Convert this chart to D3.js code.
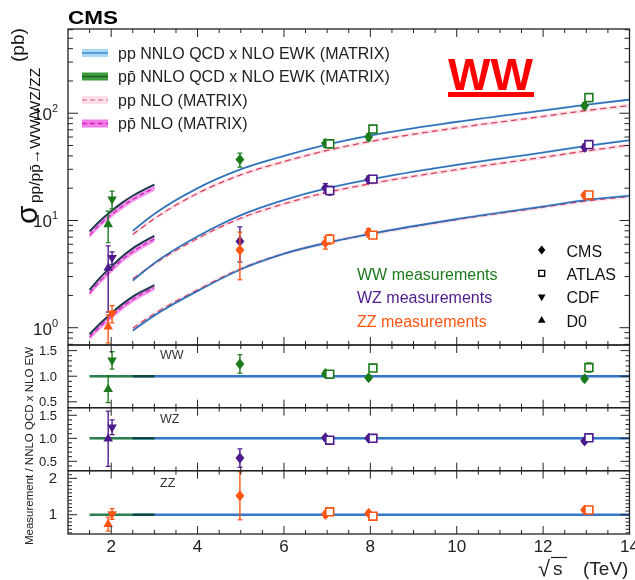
<!DOCTYPE html>
<html><head><meta charset="utf-8">
<script src="https://cdn.jsdelivr.net/npm/d3@7"></script>
<style>body{margin:0;background:#fff} svg{display:block;font-family:"Liberation Sans",Arial,Helvetica,sans-serif}</style>
</head><body><svg id="c" width="635" height="580"></svg>
<script>
// ---------------- DATA ----------------
// Theory curves: sqrt(s) in TeV, cross sections in pb
const tevE = [1.5, 1.75, 2.0, 2.25, 2.5, 2.75, 3.0];
const ppE  = [2.5, 3, 4, 5, 6, 7, 8, 10, 12, 13, 14];

const wwPpbarNNLO = [7.9, 10.0, 12.2, 14.6, 17.0, 19.3, 21.6];
const wwPpbarNLO  = [7.3, 9.3, 11.3, 13.5, 15.7, 17.9, 20.1];
const wzPpbarNNLO = [2.25, 2.95, 3.7, 4.6, 5.5, 6.35, 7.2];
const wzPpbarNLO  = [2.1, 2.75, 3.45, 4.3, 5.1, 5.9, 6.7];
const zzPpbarNNLO = [0.87, 1.1, 1.36, 1.65, 1.95, 2.22, 2.5];
const zzPpbarNLO  = [0.82, 1.03, 1.27, 1.55, 1.83, 2.1, 2.36];

const wwPpNNLO = [8.0, 11.5, 20, 30, 40, 51, 62, 83, 106, 120, 134];
const wwPpNLO  = [7.4, 10.4, 17.9, 26.6, 35.4, 45, 54.5, 73, 93.5, 106, 118];
const wzPpNNLO = [2.75, 4.0, 7.1, 11.2, 15.5, 20, 24.2, 33, 43, 49.5, 56];
const wzPpNLO  = [2.85, 3.95, 6.8, 10.5, 14.3, 18.3, 22, 29.8, 38.8, 44.5, 50.5];
const zzPpNNLO = [0.94, 1.3, 2.2, 3.5, 4.9, 6.2, 7.5, 10.3, 13.5, 15.5, 17.0];
const zzPpNLO  = [0.99, 1.35, 2.25, 3.55, 4.9, 6.2, 7.45, 10.2, 13.3, 15.2, 16.7];

// Measurements
const tevatronE = [1.96];
const cmsE   = [5.02, 7, 8, 13];
const atlasE = [7, 8, 13];

const cmsWW = [37.0, 52.4, 60.1, 117.6],   cmsWWErr = [5.5, 4.5, 4.5, 8];
const atlasWW = [51.9, 71.1, 140],         atlasWWErr = [4.5, 5.5, 12];
const cdfWW = [15.8], cdfWWErr = [3.0];
const d0WW  = [9.2],  d0WWErr  = [3.0];

const cmsWZ = [6.4, 20.1, 24.1, 48.1],     cmsWZErr = [2.3, 2.0, 1.8, 3.5];
const atlasWZ = [19.0, 24.3, 51.0],        atlasWZErr = [1.8, 1.7, 3.0];
const cdfWZ = [4.5], cdfWZErr = [0.6];
const d0WZ  = [3.6], d0WZErr  = [2.2];

const cmsZZ = [5.3, 6.2, 7.7, 17.2],       cmsZZErr = [2.5, 0.8, 0.7, 1.0];
const atlasZZ = [6.7, 7.3, 17.3],          atlasZZErr = [0.7, 0.5, 0.9];
const cdfZZ = [1.36], cdfZZErr = [0.25];
const d0ZZ  = [1.02], d0ZZErr  = [0.3];

// Ratios measurement / NNLO QCD x NLO EW
const rCmsWW = [1.24, 1.05, 0.97, 0.95],  rCmsWWErr = [0.18, 0.06, 0.05, 0.05];
const rAtlasWW = [1.04, 1.16, 1.17],      rAtlasWWErr = [0.06, 0.06, 0.09];
const rCdfWW = [1.31], rCdfWWErr = [0.17];
const rD0WW  = [0.745], rD0WWErr = [0.26];

const rCmsWZ = [0.57, 1.01, 1.0, 0.94],   rCmsWZErr = [0.2, 0.05, 0.05, 0.05];
const rAtlasWZ = [0.96, 1.0, 1.01],       rAtlasWZErr = [0.05, 0.05, 0.05];
const rCdfWZ = [1.24], rCdfWZErr = [0.16];
const rD0WZ  = [0.99], rD0WZErr  = [0.6];

const rCmsZZ = [1.52, 1.01, 1.04, 1.13],  rCmsZZErr = [0.66, 0.08, 0.06, 0.05];
const rAtlasZZ = [1.08, 0.96, 1.13],      rAtlasZZErr = [0.08, 0.05, 0.05];
const rCdfZZ = [1.02], rCdfZZErr = [0.15];
const rD0ZZ  = [0.74], rD0ZZErr  = [0.19];

const xTicks = [2, 4, 6, 8, 10, 12, 14];
const legendLabels = ["pp NNLO QCD x NLO EWK (MATRIX)", "pp\u0304 NNLO QCD x NLO EWK (MATRIX)", "pp NLO (MATRIX)", "pp\u0304 NLO (MATRIX)"];
const expLabels = ["CMS", "ATLAS", "CDF", "D0"];
const measLabels = ["WW measurements", "WZ measurements", "ZZ measurements"];

// ---------------- DRAWING ----------------
const svg = d3.select("#c");
const L = 68, R = 629.5, T = 29, MB = 345;
const x = d3.scaleLinear().domain([1, 14]).range([L, R]);
const yM = d3.scaleLog().domain([0.69, 610]).range([MB, T]);

const COL = {WW: "#1c7a1c", WZ: "#4f1a8c", ZZ: "#ff5511"};
const blueLine = "#2f6db5", blueBand = "#a9d6f3", redDash = "#d6435e", pinkBand = "#ffd9e2";
const magBand = "#f38de9", magDash = "#d21fc0", ppbarLine = "#1f3a4c";

const procs = [
  {k: "WW", col: COL.WW, tNNLO: wwPpbarNNLO, tNLO: wwPpbarNLO, pNNLO: wwPpNNLO, pNLO: wwPpNLO,
   cms: cmsWW, cmsE: cmsWWErr, atlas: atlasWW, atlasE: atlasWWErr, cdf: cdfWW, cdfE: cdfWWErr, d0: d0WW, d0E: d0WWErr,
   rcms: rCmsWW, rcmsE: rCmsWWErr, ratlas: rAtlasWW, ratlasE: rAtlasWWErr, rcdf: rCdfWW, rcdfE: rCdfWWErr, rd0: rD0WW, rd0E: rD0WWErr},
  {k: "WZ", col: COL.WZ, tNNLO: wzPpbarNNLO, tNLO: wzPpbarNLO, pNNLO: wzPpNNLO, pNLO: wzPpNLO,
   cms: cmsWZ, cmsE: cmsWZErr, atlas: atlasWZ, atlasE: atlasWZErr, cdf: cdfWZ, cdfE: cdfWZErr, d0: d0WZ, d0E: d0WZErr,
   rcms: rCmsWZ, rcmsE: rCmsWZErr, ratlas: rAtlasWZ, ratlasE: rAtlasWZErr, rcdf: rCdfWZ, rcdfE: rCdfWZErr, rd0: rD0WZ, rd0E: rD0WZErr},
  {k: "ZZ", col: COL.ZZ, tNNLO: zzPpbarNNLO, tNLO: zzPpbarNLO, pNNLO: zzPpNNLO, pNLO: zzPpNLO,
   cms: cmsZZ, cmsE: cmsZZErr, atlas: atlasZZ, atlasE: atlasZZErr, cdf: cdfZZ, cdfE: cdfZZErr, d0: d0ZZ, d0E: d0ZZErr,
   rcms: rCmsZZ, rcmsE: rCmsZZErr, ratlas: rAtlasZZ, ratlasE: rAtlasZZErr, rcdf: rCdfZZ, rcdfE: rCdfZZErr, rd0: rD0ZZ, rd0E: rD0ZZErr}
];

// marker symbols
const diamond = {draw(ctx, size) { const h = Math.sqrt(size) * 0.62, w = h * 0.8;
  ctx.moveTo(0, -h); ctx.lineTo(w, 0); ctx.lineTo(0, h); ctx.lineTo(-w, 0); ctx.closePath(); }};
const OFF = {cms: -0.04, atlas: 0.06, cdf: 0.06, d0: -0.03};

const defs = svg.append("defs");
defs.append("clipPath").attr("id", "cm").append("rect").attr("x", L).attr("y", T).attr("width", R - L).attr("height", MB - T);

// ---- main panel theory ----
const gM = svg.append("g").attr("clip-path", "url(#cm)");
function band(xs, vals, f, ys) {
  return d3.area().curve(d3.curveMonotoneX).x((d, i) => x(xs[i])).y0((d, i) => ys(vals[i] * (1 - f))).y1((d, i) => ys(vals[i] * (1 + f)))(vals);
}
function line(xs, vals, ys) {
  return d3.line().curve(d3.curveMonotoneX).x((d, i) => x(xs[i])).y((d) => ys(d))(vals);
}
procs.forEach(p => {
  gM.append("path").attr("d", band(tevE, p.tNLO, 0.06, yM)).attr("fill", magBand).attr("opacity", 0.9);
  gM.append("path").attr("d", line(tevE, p.tNLO, yM)).attr("fill", "none").attr("stroke", magDash).attr("stroke-width", 1.3).attr("stroke-dasharray", "5,3");
  gM.append("path").attr("d", line(tevE, p.tNNLO, yM)).attr("fill", "none").attr("stroke", ppbarLine).attr("stroke-width", 2);
  gM.append("path").attr("d", band(ppE, p.pNLO, 0.04, yM)).attr("fill", pinkBand).attr("opacity", 0.8);
  gM.append("path").attr("d", band(ppE, p.pNNLO, 0.025, yM)).attr("fill", blueBand).attr("opacity", 0.85);
  gM.append("path").attr("d", line(ppE, p.pNLO, yM)).attr("fill", "none").attr("stroke", redDash).attr("stroke-width", 1.3).attr("stroke-dasharray", "6,4");
  gM.append("path").attr("d", line(ppE, p.pNNLO, yM)).attr("fill", "none").attr("stroke", blueLine).attr("stroke-width", 1.6);
});

// marker + error drawing
function pts(g, xs, vals, errs, ys, col, kind, off, size) {
  vals.forEach((v, i) => {
    const cx = x(xs[i] + off);
    const y1 = ys(v + errs[i]), y0 = ys(Math.max(v - errs[i], 1e-3));
    g.append("line").attr("x1", cx).attr("x2", cx).attr("y1", y1).attr("y2", y0).attr("stroke", col).attr("stroke-width", 1.4);
    [y1, y0].forEach(yy => g.append("line").attr("x1", cx - 2.5).attr("x2", cx + 2.5).attr("y1", yy).attr("y2", yy).attr("stroke", col).attr("stroke-width", 1.2));
    const cy = ys(v);
    let sym, rot = 0, fill = col, stroke = "none", sw = 0;
    if (kind === "cms") sym = d3.symbol().type(diamond).size(size || 80);
    else if (kind === "atlas") { sym = d3.symbol().type(d3.symbolSquare).size(size || 62); fill = "#fff"; stroke = col; sw = 1.6; }
    else if (kind === "cdf") { sym = d3.symbol().type(d3.symbolTriangle).size(size || 40); rot = 180; }
    else sym = d3.symbol().type(d3.symbolTriangle).size(size || 40);
    g.append("path").attr("d", sym()).attr("transform", `translate(${cx},${cy}) rotate(${rot})`)
      .attr("fill", fill).attr("stroke", stroke).attr("stroke-width", sw);
  });
}
procs.forEach(p => {
  pts(gM, tevatronE, p.d0, p.d0E, yM, p.col, "d0", OFF.d0);
  pts(gM, tevatronE, p.cdf, p.cdfE, yM, p.col, "cdf", OFF.cdf);
  pts(gM, cmsE, p.cms, p.cmsE, yM, p.col, "cms", OFF.cms);
  pts(gM, atlasE, p.atlas, p.atlasE, yM, p.col, "atlas", OFF.atlas);
});

// ---- ratio panels ----
const rp = [
  {k: "WW", y: d3.scaleLinear().domain([0.385, 1.61]).range([407.7, MB]), top: MB, bot: 407.7, major: [0.5, 1.0, 1.5], minor: d3.range(4, 17).map(d => d / 10), fmt: d3.format(".1f"), fs: 13, lx: 57},
  {k: "WZ", y: d3.scaleLinear().domain([0.296, 1.665]).range([470.7, 407.7]), top: 407.7, bot: 470.7, major: [0.5, 1.0, 1.5], minor: d3.range(3, 17).map(d => d / 10), fmt: d3.format(".1f"), fs: 13, lx: 57},
  {k: "ZZ", y: d3.scaleLinear().domain([0.47, 2.21]).range([534, 470.7]), top: 470.7, bot: 534, major: [1, 2], minor: d3.range(5, 23).map(d => d / 10), fmt: d3.format("d"), fs: 15, lx: 57}
];
rp.forEach((pn, i) => {
  const p = procs[i];
  const cid = "cr" + i;
  defs.append("clipPath").attr("id", cid).append("rect").attr("x", L).attr("y", pn.top).attr("width", R - L).attr("height", pn.bot - pn.top);
  const g = svg.append("g").attr("clip-path", `url(#${cid})`);
  const tevX = d3.extent(tevE), ppX = d3.extent(ppE);
  const ones = [1, 1];
  g.append("path").attr("d", band(tevX, ones, 0.025, pn.y)).attr("fill", "#7fbf8f").attr("opacity", 0.6);
  g.append("path").attr("d", band(ppX, ones, 0.025, pn.y)).attr("fill", blueBand).attr("opacity", 0.9);
  g.append("path").attr("d", line(tevX, ones, pn.y)).attr("stroke", "#2f8050").attr("stroke-width", 2.6).attr("fill", "none");
  g.append("path").attr("d", line(ppX, ones, pn.y)).attr("stroke", "#4b89cf").attr("stroke-width", 2.6).attr("fill", "none").style("mix-blend-mode", "multiply");
  pts(g, tevatronE, p.rd0, p.rd0E, pn.y, p.col, "d0", OFF.d0);
  pts(g, tevatronE, p.rcdf, p.rcdfE, pn.y, p.col, "cdf", OFF.cdf);
  pts(g, cmsE, p.rcms, p.rcmsE, pn.y, p.col, "cms", OFF.cms);
  pts(g, atlasE, p.ratlas, p.ratlasE, pn.y, p.col, "atlas", OFF.atlas);
  // y ticks
  const ax = svg.append("g").attr("stroke", "#222").attr("stroke-width", 1);
  pn.minor.forEach(v => { const yy = pn.y(v); if (yy < pn.top + 1 || yy > pn.bot - 1) return;
    const len = pn.major.includes(v) ? 9 : 4;
    ax.append("line").attr("x1", L).attr("x2", L + len).attr("y1", yy).attr("y2", yy);
    ax.append("line").attr("x1", R).attr("x2", R - len).attr("y1", yy).attr("y2", yy); });
  pn.major.forEach(v => svg.append("text").attr("x", pn.lx).attr("y", pn.y(v) + 4.5).attr("text-anchor", "end")
    .attr("font-size", pn.fs).attr("fill", "#222").text(pn.fmt(v)));
  svg.append("text").attr("x", 160).attr("y", [359, 422.5, 486.5][i]).attr("font-size", 12.5).attr("fill", "#333").text(pn.k);
});

// ---- frames & x ticks ----
const fr = svg.append("g").attr("fill", "none").attr("stroke", "#222");
[[T, MB], [MB, 407.7], [407.7, 470.7], [470.7, 534]].forEach(([a, b]) => {
  fr.append("rect").attr("x", L).attr("y", a).attr("width", R - L).attr("height", b - a).attr("stroke-width", 1.3);
  d3.range(1.5, 14, 0.5).forEach(v => {
    const len = (v % 2 === 0) ? 8 : 4;
    fr.append("line").attr("x1", x(v)).attr("x2", x(v)).attr("y1", a).attr("y2", a + len).attr("stroke-width", 1);
    fr.append("line").attr("x1", x(v)).attr("x2", x(v)).attr("y1", b).attr("y2", b - len).attr("stroke-width", 1);
  });
});
// log ticks main
[-1, 0, 1, 2].forEach(k => d3.range(1, 10).forEach(m => {
  const v = m * Math.pow(10, k);
  if (v < 0.69 || v > 610) return;
  const yy = yM(v), len = m === 1 ? 10 : 5;
  fr.append("line").attr("x1", L).attr("x2", L + len).attr("y1", yy).attr("y2", yy).attr("stroke-width", 1);
  fr.append("line").attr("x1", R).attr("x2", R - len).attr("y1", yy).attr("y2", yy).attr("stroke-width", 1);
}));
[0, 1, 2].forEach(k => {
  const t = svg.append("text").attr("x", 58).attr("y", yM(Math.pow(10, k)) + 7).attr("text-anchor", "end").attr("fill", "#222");
  t.append("tspan").attr("font-size", 17).text("10");
  t.append("tspan").attr("font-size", 11).attr("dy", -8).text(String(k));
});
xTicks.forEach(v => svg.append("text").attr("x", x(v)).attr("y", 552).attr("text-anchor", "middle").attr("font-size", 17).attr("fill", "#222").text(v));

// x title
svg.append("text").attr("x", 538).attr("y", 576).attr("font-size", 22).attr("fill", "#222").text("\u221A");
svg.append("text").attr("x", 553).attr("y", 575).attr("font-size", 19).attr("fill", "#222").text("s");
svg.append("line").attr("x1", 551).attr("x2", 567).attr("y1", 557.5).attr("y2", 557.5).attr("stroke", "#222").attr("stroke-width", 1.2);
svg.append("text").attr("x", 583).attr("y", 575).attr("font-size", 19).attr("fill", "#222").text("(TeV)");

// y titles
const yt = svg.append("g").attr("fill", "#111");
yt.append("text").attr("transform", "translate(37,224) rotate(-90)").attr("font-size", 30).text("\u03C3");
yt.append("text").attr("transform", "translate(40,203) rotate(-90)").attr("font-size", 15.5).text("pp/pp\u0304\u2192WW/WZ/ZZ");
yt.append("text").attr("transform", "translate(24,62) rotate(-90)").attr("font-size", 19).text("(pb)");
svg.append("text").attr("transform", "translate(33,446) rotate(-90)").attr("text-anchor", "middle").attr("font-size", 11.5).attr("fill", "#222")
  .text("Measurement / NNLO QCD x NLO EW");

// CMS label
svg.append("text").attr("x", 68).attr("y", 24).attr("font-size", 19).attr("font-weight", "bold").attr("fill", "#000")
  .attr("textLength", 50).attr("lengthAdjust", "spacingAndGlyphs").text("CMS");

// WW red label
svg.append("text").attr("x", 448).attr("y", 90).attr("font-size", 45).attr("font-weight", "bold").attr("fill", "#ff0000").text("WW");
svg.append("rect").attr("x", 448).attr("y", 92).attr("width", 86).attr("height", 5).attr("fill", "#ff0000");

// theory legend
const lg = svg.append("g");
const rowsY = [53, 76.5, 100, 123.5];
const sw = [
  {band: blueBand, line: "#3d8ad6", dash: null},
  {band: "#3c9c3c", line: "#1f5f2a", dash: null},
  {band: "#ffe0e8", line: "#e58a9c", dash: "5,3"},
  {band: "#f07de8", line: "#d21fc0", dash: "5,3"}
];
sw.forEach((s, i) => {
  lg.append("rect").attr("x", 82).attr("y", rowsY[i] - 4).attr("width", 26).attr("height", 8).attr("fill", s.band);
  lg.append("line").attr("x1", 82).attr("x2", 108).attr("y1", rowsY[i]).attr("y2", rowsY[i]).attr("stroke", s.line).attr("stroke-width", 1.5).attr("stroke-dasharray", s.dash);
  lg.append("text").attr("x", 118).attr("y", rowsY[i] + 5.5).attr("font-size", 16).attr("fill", "#222").text(legendLabels[i]);
});

// experiment legend
const eY = [250, 273.3, 296.7, 320.5];
const kinds = ["cms", "atlas", "cdf", "d0"];
kinds.forEach((k, i) => {
  let sym, fill = "#000", stroke = "none", rot = 0;
  if (k === "cms") sym = d3.symbol().type(diamond).size(55);
  else if (k === "atlas") { sym = d3.symbol().type(d3.symbolSquare).size(34); fill = "#fff"; stroke = "#000"; }
  else if (k === "cdf") { sym = d3.symbol().type(d3.symbolTriangle).size(26); rot = 180; }
  else sym = d3.symbol().type(d3.symbolTriangle).size(26);
  svg.append("path").attr("d", sym()).attr("transform", `translate(541.7,${eY[i]}) rotate(${rot})`).attr("fill", fill).attr("stroke", stroke).attr("stroke-width", 1.4);
  svg.append("text").attr("x", 566.5).attr("y", [256.5, 280, 303, 326.5][i]).attr("font-size", 16).attr("fill", "#111").text(expLabels[i]);
});
measLabels.forEach((t, i) => svg.append("text").attr("x", 357).attr("y", [279.5, 303, 326.5][i]).attr("font-size", 16)
  .attr("fill", [COL.WW, COL.WZ, COL.ZZ][i]).text(t));
</script></body></html>
